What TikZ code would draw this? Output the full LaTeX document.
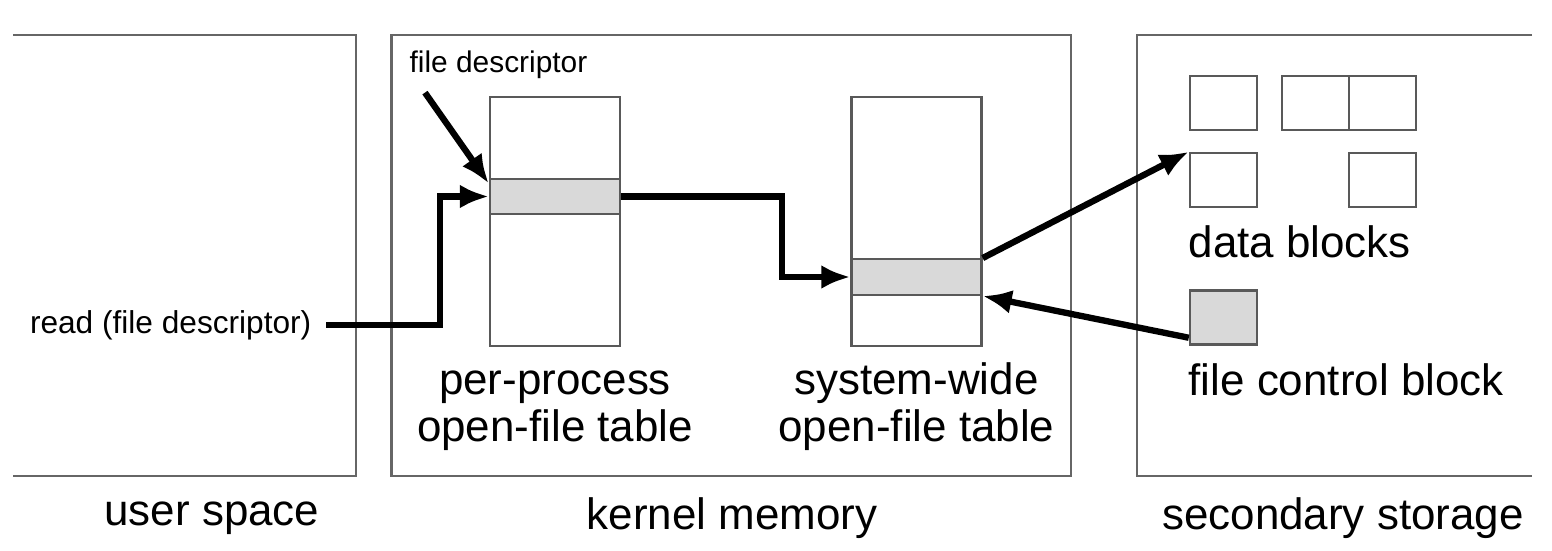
\documentclass[tikz,border=0pt]{standalone}
\usepackage{fontspec}
\setmainfont{Liberation Sans}
\usetikzlibrary{arrows.meta,positioning}
\tikzset{
    frame/.style={draw=black!60,line width=0.7pt},
    tablebox/.style={draw=black!65,line width=0.7pt,minimum width=1.3cm,minimum height=2.49cm,inner sep=0pt},
    slot/.style={draw=black!65,line width=0.7pt,fill=gray!30,minimum width=1.3cm,minimum height=0.355cm,inner sep=0pt},
    block/.style={draw=black!65,line width=0.7pt,minimum width=0.67cm,minimum height=0.54cm,inner sep=0pt},
    arr/.style={line width=1.8pt,-{Latex[length=2.9mm,width=2.4mm]}},
    biglabel/.style={font=\fontsize{12.5}{13.5}\selectfont,align=center,inner sep=0pt},
    smalllabel/.style={font=\fontsize{8.5}{10}\selectfont,inner sep=0pt},
}
\newcommand\OpenFileTable[4]{%
    \node[tablebox] (#1) at (#2,3.285) {};
    \node[slot] (#1row) at (#2,#3) {};
    \node[biglabel,below=0.13cm of #1] (#1label) {\strut#4};
}

\begin{document}
\begin{tikzpicture}
    \useasboundingbox (0,0) rectangle (15.52,5.5);
    % user space
    \draw[frame] (0.13,5.15) -- (3.56,5.15) -- (3.56,0.74) -- (0.13,0.74);
    \node[biglabel] (user) at (2.12,0.32) {user space};
    % kernel memory
    \draw[frame] (3.915,0.74) rectangle (10.71,5.15);
    \node[biglabel] (kernel) at (7.32,0.32) {kernel memory};
    % secondary storage
    \draw[frame] (15.32,5.15) -- (11.37,5.15) -- (11.37,0.74) -- (15.32,0.74);
    \node[biglabel] (storage) at (13.43,0.32) {secondary storage};

    \OpenFileTable{ppt}{5.55}{3.535}{per-process\\open-file table}
    \OpenFileTable{swt}{9.165}{2.73}{system-wide\\open-file table}

    \foreach \name/\x/\y in {b1/12.235/4.47, b2/13.155/4.47, b3/13.825/4.47, b4/12.235/3.70, b5/13.825/3.70}
        \node[block] (\name) at (\x,\y) {};
    \node[block,fill=gray!30] (fcb) at (12.235,2.325) {};
    \node[biglabel,anchor=west] (dblabel) at (11.88,3.08) {data blocks};
    \node[biglabel,anchor=west] (fcblabel) at (11.88,1.70) {file control block};

    \node[smalllabel] (fd) at (4.985,4.85) {file descriptor};
    \node[smalllabel,font=\fontsize{9}{10}\selectfont,anchor=east] (read) at (3.12,2.25) {read (file descriptor)};

    \draw[arr] ([xshift=0.16cm,yshift=-0.13cm]fd.south west) -- ([yshift=-0.06cm]pptrow.north west);
    \draw[arr] ([xshift=0.14cm]read.east) -- ++(1.14,0) |- (pptrow.west);
    \draw[arr] (pptrow.east) -- ++(1.61,0) |- (swtrow.west);
    \draw[arr] (swtrow.north east) -- (b4.north west);
    \draw[arr] ([yshift=0.08cm]fcb.south west) -- (swtrow.south east);
\end{tikzpicture}
\end{document}
